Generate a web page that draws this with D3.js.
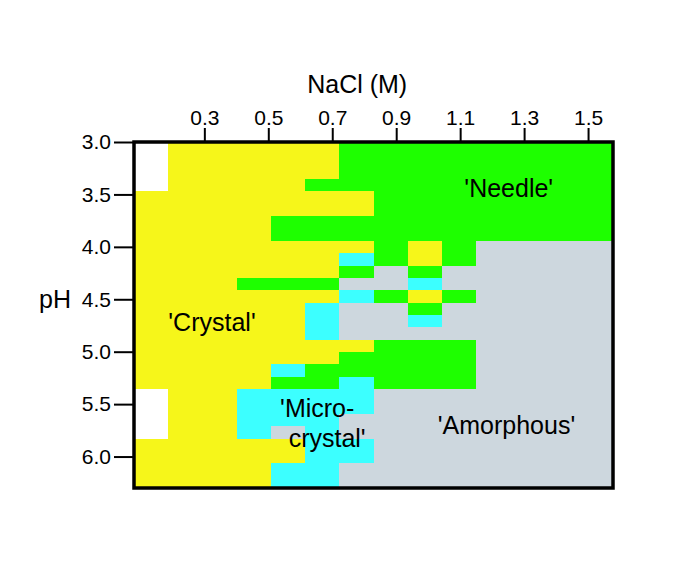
<!DOCTYPE html>
<html>
<head>
<meta charset="utf-8">
<script src="https://cdn.jsdelivr.net/npm/d3@7"></script>
<style>
  body { margin: 0; background: #fff; }
  text { font-family: "Liberation Sans", Arial, sans-serif; fill: #000; }
</style>
</head>
<body>
<svg id="chart" width="685" height="579"></svg>
<script>
// phase codes used in the grid, with their names and colours
var phaseCodes = ["Y", "C", "G", "A", "W"];
var phaseNames = ["Crystal", "Micro-crystal", "Needle", "Amorphous", "none"];
var phaseColors = ["#f6f61a", "#3cffff", "#1eff00", "#cdd7de", "#ffffff"];

var xTicks = [0.3, 0.5, 0.7, 0.9, 1.1, 1.3, 1.5];
var yTicks = [3.0, 3.5, 4.0, 4.5, 5.0, 5.5, 6.0];

// one string per screening row (top = pH 3.0), one letter per NaCl column
var grid = [
  "WYYYYYGGGGGGGG",
  "WYYYYYGGGGGGGG",
  "WYYYYYGGGGGGGG",
  "WYYYYGGGGGGGGG",
  "YYYYYYYGGGGGGG",
  "YYYYYYYGGGGGGG",
  "YYYYGGGGGGGGGG",
  "YYYYGGGGGGGGGG",
  "YYYYYYYGYGAAAA",
  "YYYYYYCGYGAAAA",
  "YYYYYYGAGAAAAA",
  "YYYGGGAACAAAAA",
  "YYYYYYCGYGAAAA",
  "YYYYYCAAGAAAAA",
  "YYYYYCAACAAAAA",
  "YYYYYCAAAAAAAA",
  "YYYYYYYGGGAAAA",
  "YYYYYYGGGGAAAA",
  "YYYYCGGGGGAAAA",
  "YYYYGGCGGGAAAA",
  "WYYCCCCAAAAAAA",
  "WYYCCCCAAAAAAA",
  "WYYCCCAAAAAAAA",
  "WYYCACAAAAAAAA",
  "YYYYYCCAAAAAAA",
  "YYYYYCCAAAAAAA",
  "YYYYCCAAAAAAAA",
  "YYYYCCAAAAAAAA"
];

// region labels: text lines, NaCl position, pH of baseline
var labelText = ["'Needle'", "'Crystal'", "'Micro-", "crystal'", "'Amorphous'"];
var labelNaCl = [1.252, 0.324, 0.653, 0.684, 1.245];
var labelPH = [3.524, 4.80, 5.62, 5.91, 5.785];

var margin = { top: 142, left: 134 },
    width = 479,
    height = 346;

var svg = d3.select("#chart");
var g = svg.append("g").attr("transform", "translate(" + margin.left + "," + margin.top + ")");

var x = d3.scaleLinear().domain([0.08, 1.578]).range([0, width]);
var y = d3.scaleLinear().domain([3.0, 6.3]).range([0, height]);

var nCols = grid[0].length, nRows = grid.length;
var col = d3.scaleBand().domain(d3.range(nCols)).range([0, width]);
var row = d3.scaleBand().domain(d3.range(nRows)).range([0, height]);
var color = d3.scaleOrdinal().domain(phaseCodes).range(phaseColors);

var cells = [];
grid.forEach(function(r, i) {
  r.split("").forEach(function(c, j) { cells.push({ row: i, col: j, code: c }); });
});

g.selectAll("rect.cell")
  .data(cells)
  .enter().append("rect")
  .attr("class", "cell")
  .attr("x", function(d) { return col(d.col); })
  .attr("y", function(d) { return row(d.row); })
  .attr("width", col.bandwidth() + 0.6)
  .attr("height", row.bandwidth() + 0.6)
  .attr("fill", function(d) { return color(d.code); })
  .attr("shape-rendering", "crispEdges");

// frame
g.append("rect")
  .attr("x", 0).attr("y", 0)
  .attr("width", width).attr("height", height)
  .attr("fill", "none")
  .attr("stroke", "#000")
  .attr("stroke-width", 3.5);

// axes
var xAxis = g.append("g")
  .call(d3.axisTop(x).tickValues(xTicks).tickSize(14).tickPadding(3).tickFormat(d3.format(".1f")));
var yAxis = g.append("g")
  .call(d3.axisLeft(y).tickValues(yTicks).tickSize(20).tickPadding(3).tickFormat(d3.format(".1f")));
[xAxis, yAxis].forEach(function(a) {
  a.select(".domain").remove();
  a.selectAll(".tick line").attr("stroke", "#000").attr("stroke-width", 2);
  a.selectAll(".tick text").style("font-size", "21px").attr("fill", "#000");
});

// axis titles
g.append("text")
  .attr("x", x(0.778)).attr("y", -49)
  .attr("text-anchor", "middle")
  .style("font-size", "25px")
  .text("NaCl (M)");
g.append("text")
  .attr("x", -79).attr("y", y(4.5) + 9)
  .attr("text-anchor", "middle")
  .style("font-size", "25px")
  .text("pH");

// region labels
g.selectAll("text.region")
  .data(labelText)
  .enter().append("text")
  .attr("class", "region")
  .attr("x", function(d, i) { return x(labelNaCl[i]); })
  .attr("y", function(d, i) { return y(labelPH[i]); })
  .attr("text-anchor", "middle")
  .style("font-size", "25px")
  .text(function(d) { return d; });
</script>
</body>
</html>
